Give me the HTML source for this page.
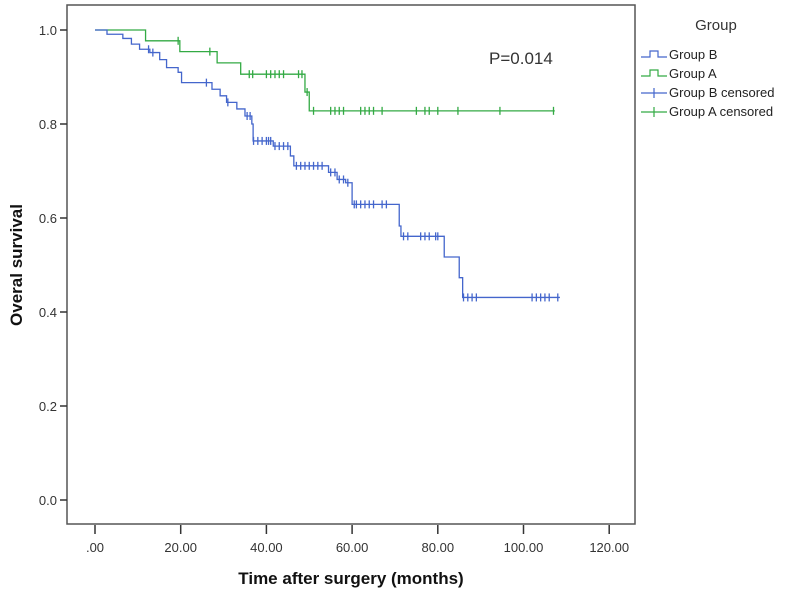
<!DOCTYPE html>
<html><head><meta charset="utf-8"><style>
body{margin:0;background:#fff;width:800px;height:594px;overflow:hidden}
svg text{font-family:"Liberation Sans",Arial,sans-serif}
</style></head><body>
<svg id="chart" width="800" height="594" viewBox="0 0 800 594" xmlns="http://www.w3.org/2000/svg">
<rect x="0" y="0" width="800" height="594" fill="#fff"/>
<rect x="67" y="5" width="568" height="519" fill="#fff" stroke="#555" stroke-width="1.5"/>
<g id="axes"></g>
<g id="series"></g>
<text x="489" y="64" font-size="17" fill="#333">P=0.014</text>
<text transform="translate(22,265) rotate(-90)" text-anchor="middle" font-size="17" font-weight="bold" fill="#111">Overal survival</text>
<text x="351" y="584" text-anchor="middle" font-size="17" font-weight="bold" fill="#111">Time after surgery (months)</text>
<g>
<text x="716" y="30" text-anchor="middle" font-size="15" fill="#333">Group</text>
<g><path d="M641 57 H650 V51 H658 V57 H667" fill="none" stroke="#4466cc" stroke-width="1.2"/><text x="669" y="59" font-size="13" fill="#222">Group B</text></g>
<g><path d="M641 76 H650 V70 H658 V76 H667" fill="none" stroke="#33aa44" stroke-width="1.2"/><text x="669" y="78" font-size="13" fill="#222">Group A</text></g>
<g><path d="M641 93 H667 M654 88 V98" stroke="#4466cc" stroke-width="1.2"/><text x="669" y="97" font-size="13" fill="#222">Group B censored</text></g>
<g><path d="M641 112 H667 M654 107 V117" stroke="#33aa44" stroke-width="1.2"/><text x="669" y="116" font-size="13" fill="#222">Group A censored</text></g>
</g>
</svg>
<script>
const xTicks=[0,20,40,60,80,100,120];
const xTickLabels=[".00","20.00","40.00","60.00","80.00","100.00","120.00"];
const yTicks=[0,0.2,0.4,0.6,0.8,1.0];
const yTickLabels=["0.0","0.2","0.4","0.6","0.8","1.0"];
const groupATimes=[0,11.8,19.8,28.5,34,49,50,107.3];
const groupASurv=[1,0.977,0.954,0.930,0.906,0.868,0.828,0.828];
const groupACensT=[19.4,26.8,36,36.8,40,41,42,43,44,47.5,48.3,49.5,51,55,56,57,58,62,63,64,65,67,75,77,78,80,84.7,94.5,107];
const groupBTimes=[0,2.8,6.5,8.5,10.4,12.8,15.1,16.7,19.4,20.2,27.3,29.2,30.7,33.1,35,36.6,36.9,41.6,45.6,46.4,54.5,56.5,58.5,60,71,71.4,81.5,85,85.8,108.5];
const groupBSurv=[1,0.991,0.982,0.970,0.959,0.952,0.937,0.920,0.910,0.888,0.874,0.860,0.846,0.832,0.817,0.800,0.764,0.753,0.732,0.711,0.697,0.682,0.675,0.629,0.583,0.561,0.517,0.473,0.431,0.431];
const groupBCensT=[12.5,13.5,26,31,35.5,36.2,37,38,39,40,40.5,41,42,43,44,45,47,48,49,50,51,52,53,55,56,57,58,59,60.5,61,62,63,64,65,67,68,72,73,76,77,78,79.5,80,86,87,88,89,102,103,104,105,106,108];
const NS='http://www.w3.org/2000/svg';
const X=t=>95+t*4.285, Y=s=>500-s*470;
function el(tag,attrs,parent){const e=document.createElementNS(NS,tag);for(const k in attrs)e.setAttribute(k,attrs[k]);parent.appendChild(e);return e;}
const axes=document.getElementById('axes'), series=document.getElementById('series');
xTicks.forEach((t,i)=>{
 const l=el('line',{x1:X(t),x2:X(t),y1:525,y2:534,stroke:'#333','stroke-width':1.5},axes);
 
 
 const tx=el('text',{x:X(t),y:552,'text-anchor':'middle','font-size':13,fill:'#333'},axes);tx.textContent=xTickLabels[i];
 
 
});
yTicks.forEach((s,i)=>{
 const l=el('line',{x1:60,x2:67,y1:Y(s),y2:Y(s),stroke:'#333','stroke-width':1.5},axes);
 
 
 const tx=el('text',{x:57,y:Y(s)+5,'text-anchor':'end','font-size':13,fill:'#333'},axes);tx.textContent=yTickLabels[i];
 
 
});
function survAt(times,surv,t){let s=surv[0];for(let i=0;i<times.length;i++){if(times[i]<=t)s=surv[i];}return s;}
function drawCurve(times,surv,cens,color,name){
 let d='M'+X(times[0])+' '+Y(surv[0]);
 for(let i=1;i<times.length;i++){d+=' H'+X(times[i])+' V'+Y(surv[i]);}
 const p=el('path',{d:d,fill:'none',stroke:color,'stroke-width':1.3},series);
 
 
 cens.forEach(t=>{
  const y=Y(survAt(times,surv,t)),x=X(t);
  const c=el('path',{d:'M'+x+' '+(y-4)+' V'+(y+4),stroke:color,'stroke-width':1.3},series);
  
  
 });
}
drawCurve(groupATimes,groupASurv,groupACensT,'#33aa44','group-a');
drawCurve(groupBTimes,groupBSurv,groupBCensT,'#4466cc','group-b');
</script>
</body></html>
